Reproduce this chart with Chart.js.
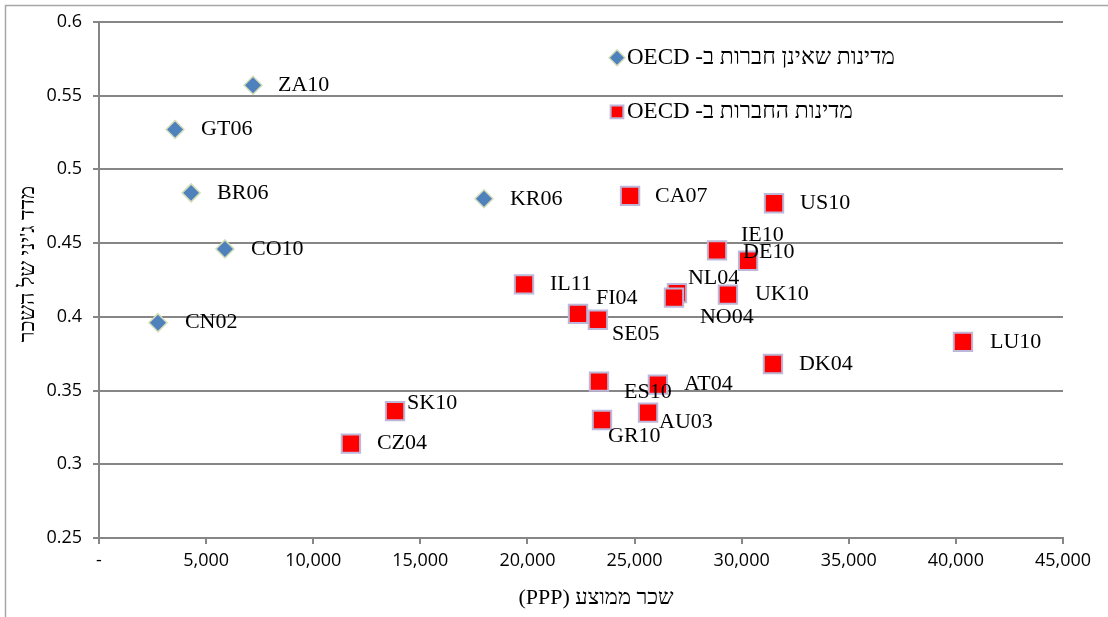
<!DOCTYPE html>
<html>
<head>
<meta charset="utf-8">
<script src="https://cdn.jsdelivr.net/npm/chart.js@4.4.1/dist/chart.umd.min.js"></script>
<style>
  html, body { margin: 0; padding: 0; background: #fff; }
  #wrap { width: 1108px; height: 617px; }
</style>
</head>
<body>
<div id="wrap"><canvas id="gini" width="1108" height="617"></canvas></div>
<script>
// non-OECD countries
var nonOecdNames = ['ZA10', 'GT06', 'BR06', 'CO10', 'CN02', 'KR06'];
var nonOecdWage = [7190, 3550, 4300, 5880, 2750, 17970];
var nonOecdGini = [0.557, 0.527, 0.484, 0.446, 0.396, 0.480];

// OECD countries
var oecdNames = ['CA07', 'US10', 'IE10', 'DE10', 'IL11', 'NL04', 'NO04', 'UK10', 'FI04',
                 'SE05', 'LU10', 'DK04', 'ES10', 'AT04', 'AU03', 'GR10', 'SK10', 'CZ04'];
var oecdWage = [24790, 31510, 28850, 30300, 19840, 26980, 26840, 29360, 22360,
                23290, 40330, 31460, 23340, 26090, 25630, 23480, 13820, 11760];
var oecdGini = [0.482, 0.477, 0.445, 0.438, 0.422, 0.416, 0.413, 0.415, 0.402,
                0.398, 0.383, 0.368, 0.356, 0.354, 0.335, 0.330, 0.336, 0.314];

var legendLabels = ['מדינות שאינן חברות ב- OECD', 'מדינות החברות ב- OECD'];
var xTitle = 'שכר ממוצע (PPP)';
var yTitle = "מדד ג'יני של השכר";

// where each label sits relative to its point (px)
var nonOecdOffsets = [[25, 0], [26, 0], [26, 0], [26, 0], [27, 0], [26, 0]];
var oecdOffsets = [[25, 0], [26, 0], [24, -15], [-5, -9], [26, 0], [11, -15], [26, 20], [27, 0], [18, -16],
                   [14, 14], [27, 0], [26, 0], [25, 11], [26, 0], [11, 10], [6, 16], [12, -8], [26, 0]];

var GRID = '#868686';
var SERIF = '"Liberation Serif", "Times New Roman", serif';

function toPoints(xs, ys) {
    return xs.map(function (x, i) { return { x: x, y: ys[i] }; });
}

var blueStyle = { pointStyle: 'rectRot', radius: 9, borderWidth: 1.5, backgroundColor: '#4F81BD', borderColor: '#D4DDB8' };
var redStyle = { pointStyle: 'rect', radius: 13, borderWidth: 2, backgroundColor: '#FF0000', borderColor: '#BDB8DA' };

var frame = {
    id: 'frame',
    beforeDraw: function (chart) {
        var ctx = chart.ctx;
        ctx.save();
        ctx.strokeStyle = '#A6A6A6';
        ctx.lineWidth = 1.5;
        ctx.beginPath();
        ctx.moveTo(5.5, chart.height);
        ctx.lineTo(5.5, 5.5);
        ctx.lineTo(chart.width, 5.5);
        ctx.stroke();
        ctx.restore();
    }
};

var pointLabels = {
    id: 'pointLabels',
    afterDatasetsDraw: function (chart) {
        var ctx = chart.ctx;
        ctx.save();
        ctx.font = '22px ' + SERIF;
        ctx.fillStyle = '#000';
        ctx.textAlign = 'left';
        ctx.textBaseline = 'middle';
        var sets = [[nonOecdNames, nonOecdOffsets], [oecdNames, oecdOffsets]];
        sets.forEach(function (s, d) {
            chart.getDatasetMeta(d).data.forEach(function (pt, i) {
                ctx.fillText(s[0][i], pt.x + s[1][i][0], pt.y + s[1][i][1]);
            });
        });
        ctx.restore();
    }
};

var extras = {
    id: 'extras',
    afterDraw: function (chart) {
        var ctx = chart.ctx;
        var a = chart.chartArea;
        ctx.save();
        // legend
        var styles = [blueStyle, redStyle];
        ctx.font = '23px ' + SERIF;
        ctx.textBaseline = 'middle';
        ctx.direction = 'rtl';
        ctx.textAlign = 'left';
        for (var i = 0; i < 2; i++) {
            var lx = a.left + 518, ly = a.top + 36 + i * 54;
            var st = styles[i];
            ctx.fillStyle = st.backgroundColor;
            ctx.strokeStyle = st.borderColor;
            ctx.lineWidth = st.borderWidth;
            Chart.helpers.drawPoint(ctx, { pointStyle: st.pointStyle, radius: i ? 9 : 8, borderWidth: st.borderWidth }, lx, ly);
            ctx.fillStyle = '#000';
            ctx.fillText(legendLabels[i], lx + 10, ly);
        }
        // axis titles
        ctx.font = '22px ' + SERIF;
        ctx.textAlign = 'center';
        ctx.fillText(xTitle, 596, 598);
        ctx.translate(28, 264);
        ctx.rotate(-Math.PI / 2);
        ctx.fillText(yTitle, 0, 0);
        ctx.restore();
    }
};

var ctx = document.getElementById('gini').getContext('2d');
var giniChart = new Chart(ctx, {
    type: 'scatter',
    data: {
        datasets: [
            Object.assign({ label: legendLabels[0], data: toPoints(nonOecdWage, nonOecdGini) }, blueStyle),
            Object.assign({ label: legendLabels[1], data: toPoints(oecdWage, oecdGini) }, redStyle)
        ]
    },
    options: {
        responsive: false,
        animation: false,
        layout: { padding: { top: 20, right: 45, bottom: 0, left: 0 } },
        plugins: { legend: { display: false }, tooltip: { enabled: false } },
        scales: {
            x: {
                type: 'linear',
                min: 0,
                max: 45000,
                afterFit: function (scale) { scale.height = 79; },
                ticks: {
                    stepSize: 5000,
                    padding: 6,
                    color: '#000',
                    maxRotation: 0,
                    font: { family: '"Open Sans", sans-serif', size: 18 },
                    callback: function (v) { return v === 0 ? '-' : v.toLocaleString('en-US'); }
                },
                grid: { drawOnChartArea: false, drawTicks: true, tickLength: 6, color: GRID, lineWidth: 2 },
                border: { display: true, color: GRID, width: 2 }
            },
            y: {
                type: 'linear',
                min: 0.25,
                max: 0.6,
                afterFit: function (scale) { scale.width = 99; },
                ticks: {
                    stepSize: 0.05,
                    padding: 11,
                    color: '#000',
                    font: { family: '"Open Sans", sans-serif', size: 18 },
                    callback: function (v) { return parseFloat(v.toFixed(2)).toString(); }
                },
                grid: { drawOnChartArea: true, drawTicks: true, tickLength: 6, color: GRID, lineWidth: 2 },
                border: { display: true, color: GRID, width: 2 }
            }
        }
    },
    plugins: [frame, pointLabels, extras]
});
</script>
</body>
</html>
